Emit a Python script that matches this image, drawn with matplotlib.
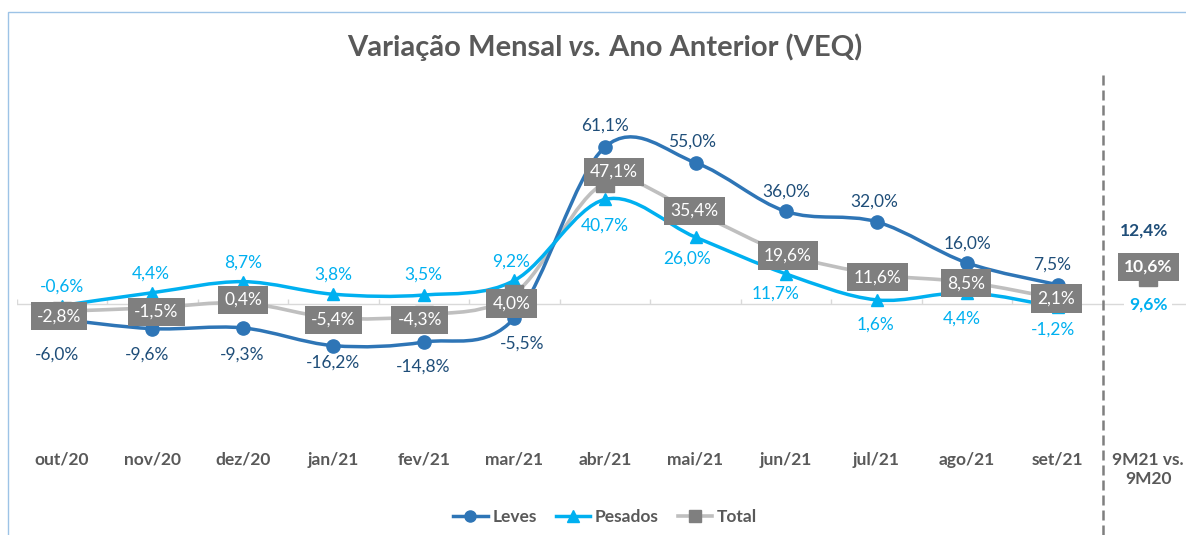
import matplotlib.pyplot as plt
import numpy as np
from matplotlib.path import Path
from matplotlib.patches import PathPatch, Rectangle
from matplotlib.lines import Line2D

# Data
categories = ['out/20', 'nov/20', 'dez/20', 'jan/21', 'fev/21', 'mar/21', 'abr/21',
              'mai/21', 'jun/21', 'jul/21', 'ago/21', 'set/21', '9M21 vs.\n9M20']
leves = [-6.0, -9.6, -9.3, -16.2, -14.8, -5.5, 61.1, 55.0, 36.0, 32.0, 16.0, 7.5]
pesados = [-0.6, 4.4, 8.7, 3.8, 3.5, 9.2, 40.7, 26.0, 11.7, 1.6, 4.4, -1.2]
total = [-2.8, -1.5, 0.4, -5.4, -4.3, 4.0, 47.1, 35.4, 19.6, 11.6, 8.5, 2.1]
ytd_leves, ytd_pesados, ytd_total = 12.4, 9.6, 10.6

# label nudges in pixels (dx, dy with dy downwards), like the hand-placed excel labels
leves_off = [(-5, 34), (-5, 24), (-1, 25), (0, 15), (-1, 23), (8, 24),
             (0, -23), (-3, -23), (0, -21), (-2, -22), (0, -21), (-5, -22)]
pesados_off = [(0, -20), (-2, -21), (0, -21), (0, -21), (-1, -22), (-3, -20),
               (0, 25), (-8, 20), (-10, 18), (-1, 23), (-5, 24), (-5, 21)]
total_off = [(-3, 5), (4, 4), (0, -3), (0, 2), (-4, 5), (-3, 10),
             (9, -11), (-1, -2), (2, 2), (1, 3), (-1, 1), (-1, 0)]

C_LEVES = '#2E75B6'
C_LEVES_TXT = '#1F4E79'
C_PES = '#00B0F0'
C_TOT_LINE = '#BFBFBF'
C_TOT = '#7F7F7F'
C_TXT = '#595959'
FONT = 'Lato'
LBL = 12.5

plt.rcParams['font.family'] = [FONT, 'DejaVu Sans']

W, H = 1186, 535
fig = plt.figure(figsize=(W / 100, H / 100), dpi=100)
ax = fig.add_axes([16.7 / W, 1 - 445 / H, (1193.3 - 16.7) / W, 375 / H])
ax.set_xlim(-0.5, 12.5)
ax.set_ylim(-54.86, 91.05)
for s in ax.spines.values():
    s.set_visible(False)
ax.set_yticks([])
ax.set_xticks(range(len(categories)))
ax.set_xticklabels(categories, fontsize=12.5, fontweight='bold', color=C_TXT, va='top')
ax.tick_params(axis='x', length=0, pad=5)

# border of the chart area
fig.add_artist(Rectangle((8 / W, -0.1), 1.2, (H - 12) / H + 0.1, transform=fig.transFigure,
                         fill=False, ec='#9DC3E6', lw=1))

# zero axis line with small tick marks
ax.axhline(0, color='#D9D9D9', lw=1, zorder=1)
tick_x = np.arange(-0.5, 12)
ax.plot(tick_x, np.zeros_like(tick_x), ls='none', marker=2, ms=3.6,
        color='#D9D9D9', mew=1, zorder=1)


def smooth_path(ys):
    # excel style smoothed line (catmull-rom as cubic bezier)
    pts = np.column_stack([np.arange(len(ys)), ys]).astype(float)
    verts = [pts[0]]
    codes = [Path.MOVETO]
    n = len(pts)
    for i in range(n - 1):
        p0 = pts[max(i - 1, 0)]
        p1 = pts[i]
        p2 = pts[i + 1]
        p3 = pts[min(i + 2, n - 1)]
        verts += [p1 + (p2 - p0) / 6, p2 - (p3 - p1) / 6, p2]
        codes += [Path.CURVE4] * 3
    return Path(verts, codes)


ax.add_patch(PathPatch(smooth_path(leves), fill=False, ec=C_LEVES, lw=2.5,
                       capstyle='round', zorder=3))
ax.add_patch(PathPatch(smooth_path(pesados), fill=False, ec=C_PES, lw=2.5,
                       capstyle='round', zorder=3.2))
ax.add_patch(PathPatch(smooth_path(total), fill=False, ec=C_TOT_LINE, lw=2.6,
                       capstyle='round', zorder=2.8))

xs = np.arange(len(leves))
x9 = len(leves)
ax.plot(list(xs) + [x9], leves + [ytd_leves], ls='none', marker='o', ms=9.5,
        color=C_LEVES, zorder=4)
ax.plot(list(xs) + [x9], pesados + [ytd_pesados], ls='none', marker='^', ms=9,
        color=C_PES, zorder=4.1)
ax.plot(list(xs) + [x9], total + [ytd_total], ls='none', marker='s', ms=12.5,
        color=C_TOT, zorder=4.2)


def fmt(v):
    return f'{v:.1f}%'.replace('.', ',')


def label(x, y, v, off, **kw):
    ax.annotate(fmt(v), (x, y), xytext=(off[0] * 0.72, -off[1] * 0.72),
                textcoords='offset points', ha='center', **kw)


BOX = dict(boxstyle='square,pad=0.36', fc=C_TOT, ec='none')

for i in xs:
    label(i, leves[i], leves[i], leves_off[i], va='center_baseline',
          fontsize=LBL, color=C_LEVES_TXT, zorder=6)
    label(i, pesados[i], pesados[i], pesados_off[i], va='center_baseline',
          fontsize=LBL, color=C_PES, zorder=6)
    label(i, total[i], total[i], total_off[i], va='center', fontsize=LBL, color='white',
          bbox=BOX, zorder=7)

# 9M21 vs 9M20 column
label(x9, ytd_leves, ytd_leves, (-4, -43), va='center_baseline', fontsize=LBL,
      fontweight='bold', color=C_LEVES_TXT, zorder=6)
label(x9, ytd_pesados, ytd_pesados, (0, 25), va='center', fontsize=LBL,
      fontweight='bold', color=C_PES, zorder=6,
      bbox=dict(boxstyle='square,pad=0.25', fc='white', ec='none'))
label(x9, ytd_total, ytd_total, (0, -10), va='center', fontsize=LBL, fontweight='bold',
      color='white', bbox=BOX, zorder=7)

# dashed separator
ax.axvline(11.5, ymin=-0.24, ymax=0.995, clip_on=False, color='#7F7F7F', lw=1.8,
           ls=(0, (4, 2)), zorder=5)

# title, "vs." in italic
TS = 21
t1 = fig.text(347 / W, 1 - 56 / H, 'Variação Mensal', fontsize=TS, fontweight='bold',
              color=C_TXT, ha='left', va='baseline')
a2 = ax.annotate(' vs.', xy=(1, 0), xycoords=t1, va='bottom', ha='left', fontsize=TS,
                 fontweight='bold', style='italic', color=C_TXT, annotation_clip=False)
ax.annotate(' Ano Anterior (VEQ)', xy=(1, 0), xycoords=a2, va='bottom', ha='left',
            fontsize=TS, fontweight='bold', color=C_TXT, annotation_clip=False)

# legend
handles = [Line2D([], [], color=C_LEVES, lw=2.5, marker='o', ms=8),
           Line2D([], [], color=C_PES, lw=2.5, marker='^', ms=8),
           Line2D([], [], color=C_TOT_LINE, lw=2.6, marker='s', ms=8,
                  mfc=C_TOT, mec=C_TOT)]
leg = fig.legend(handles, ['Leves', 'Pesados', 'Total'], loc='center',
                 bbox_to_anchor=(605 / W, 1 - 517 / H), ncol=3, frameon=False,
                 handlelength=2.0, handletextpad=0.25, columnspacing=1.1,
                 prop={'family': FONT, 'weight': 'bold', 'size': 12.5})
for t in leg.get_texts():
    t.set_color(C_TXT)

fig.savefig('out.png', dpi=100)
